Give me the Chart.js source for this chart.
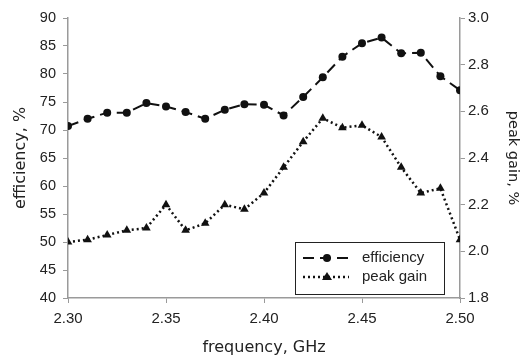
<!DOCTYPE html>
<html>
<head>
<meta charset="utf-8">
<script src="https://cdn.jsdelivr.net/npm/chart.js@4/dist/chart.umd.min.js"></script>
<style>
  html, body { margin: 0; padding: 0; background: #fff; }
  #wrap { width: 522px; height: 358px; }
</style>
</head>
<body>
<div id="wrap"><canvas id="chart1" width="522" height="358"></canvas></div>
<script>
const freq = [2.30, 2.31, 2.32, 2.33, 2.34, 2.35, 2.36, 2.37, 2.38, 2.39, 2.40,
              2.41, 2.42, 2.43, 2.44, 2.45, 2.46, 2.47, 2.48, 2.49, 2.50]
const efficiency = [70.7, 72.0, 73.1, 73.1, 74.8, 74.2, 73.2, 72.0, 73.6, 74.6, 74.5,
                    72.6, 75.9, 79.4, 83.1, 85.5, 86.5, 83.7, 83.8, 79.6, 77.1]
const peakGain = [2.04, 2.05, 2.07, 2.09, 2.10, 2.20, 2.09, 2.12, 2.20, 2.18, 2.25,
                  2.36, 2.47, 2.57, 2.53, 2.54, 2.49, 2.36, 2.25, 2.27, 2.05]
const xTicks = [2.30, 2.35, 2.40, 2.45, 2.50]

const axisGray = '#9a9a9a'
const txt = '#222'
const fontFam = '"Liberation Sans", Arial, sans-serif'
const wideFam = '"DejaVu Sans", sans-serif'

//=============== LEGEND BOX DRAWN INSIDE THE PLOT ===============
const boxLegend = {
  id: 'boxLegend',
  afterDraw(chart) {
    const ctx = chart.ctx
    const x0 = 295, y0 = 242, w = 149, h = 52
    ctx.save()
    ctx.fillStyle = '#fff'
    ctx.fillRect(x0, y0, w, h)
    ctx.strokeStyle = '#222'
    ctx.lineWidth = 1
    ctx.strokeRect(x0 + 0.5, y0 + 0.5, w, h)
    chart.data.datasets.forEach((ds, i) => {
      const y = y0 + 16 + i * 19
      ctx.strokeStyle = '#111'
      ctx.lineWidth = ds.borderWidth
      ctx.setLineDash(ds.borderDash)
      ctx.beginPath()
      ctx.moveTo(x0 + 8, y)
      ctx.lineTo(x0 + 54, y)
      ctx.stroke()
      ctx.setLineDash([])
      ctx.fillStyle = '#111'
      ctx.beginPath()
      if (ds.pointStyle === 'triangle') {
        ctx.moveTo(x0 + 32, y - 5)
        ctx.lineTo(x0 + 37, y + 3)
        ctx.lineTo(x0 + 27, y + 3)
      } else {
        ctx.arc(x0 + 32, y, 4, 0, Math.PI * 2)
      }
      ctx.fill()
      ctx.fillStyle = txt
      ctx.font = '15px ' + fontFam
      ctx.textBaseline = 'middle'
      ctx.fillText(ds.label, x0 + 67, y)
    })
    ctx.restore()
  }
}

const ctx = document.querySelector('#chart1').getContext('2d')
new Chart(ctx, {
  type: 'line',
  data: {
    datasets: [
      {
        label: 'efficiency',
        data: freq.map((f, i) => ({ x: f, y: efficiency[i] })),
        yAxisID: 'y',
        borderColor: '#111',
        backgroundColor: '#111',
        borderWidth: 2,
        borderDash: [11, 6],
        pointStyle: 'circle',
        pointRadius: 4,
        pointBorderWidth: 0,
        tension: 0
      },
      {
        label: 'peak gain',
        data: freq.map((f, i) => ({ x: f, y: peakGain[i] })),
        yAxisID: 'y2',
        borderColor: '#111',
        backgroundColor: '#111',
        borderWidth: 2.5,
        borderDash: [2, 3],
        pointStyle: 'triangle',
        pointRadius: 5,
        pointBorderWidth: 0,
        tension: 0
      }
    ]
  },
  options: {
    responsive: false,
    animation: false,
    layout: { padding: { top: 18, left: 0, right: 0, bottom: 0 } },
    plugins: {
      legend: { display: false },
      tooltip: { enabled: false }
    },
    scales: {
      x: {
        type: 'linear',
        min: 2.30,
        max: 2.50,
        afterBuildTicks: (scale) => { scale.ticks = xTicks.map(v => ({ value: v })) },
        afterFit: (scale) => { scale.height = 60 },
        ticks: {
          color: txt,
          font: { family: fontFam, size: 15 },
          padding: 7,
          maxRotation: 0,
          callback: (v) => Number(v).toFixed(2)
        },
        grid: { drawOnChartArea: false, color: axisGray, tickLength: 5 },
        border: { color: axisGray, width: 1.5 },
        title: {
          display: true,
          text: 'frequency, GHz',
          color: txt,
          font: { family: wideFam, size: 16 },
          padding: { top: 0, bottom: 1 }
        }
      },
      y: {
        position: 'left',
        min: 40,
        max: 90,
        afterFit: (scale) => { scale.width = 68 },
        ticks: {
          stepSize: 5,
          color: txt,
          font: { family: fontFam, size: 14.5 },
          padding: 7
        },
        grid: { drawOnChartArea: false, color: axisGray, tickLength: 5 },
        border: { color: axisGray, width: 1.5 },
        title: {
          display: true,
          text: 'efficiency, %',
          color: txt,
          font: { family: wideFam, size: 16 },
          padding: { top: 11, bottom: 0 }
        }
      },
      y2: {
        position: 'right',
        min: 1.8,
        max: 3.0,
        afterFit: (scale) => { scale.width = 62 },
        ticks: {
          stepSize: 0.2,
          color: txt,
          font: { family: fontFam, size: 15 },
          padding: 3,
          callback: (v) => Number(v).toFixed(1)
        },
        grid: { drawOnChartArea: false, color: axisGray, tickLength: 5 },
        border: { color: axisGray, width: 1.5 },
        title: {
          display: true,
          text: 'peak gain, %',
          color: txt,
          font: { family: wideFam, size: 14.5 },
          padding: { top: 1, bottom: 0 }
        }
      }
    }
  },
  plugins: [boxLegend]
})
</script>
</body>
</html>
